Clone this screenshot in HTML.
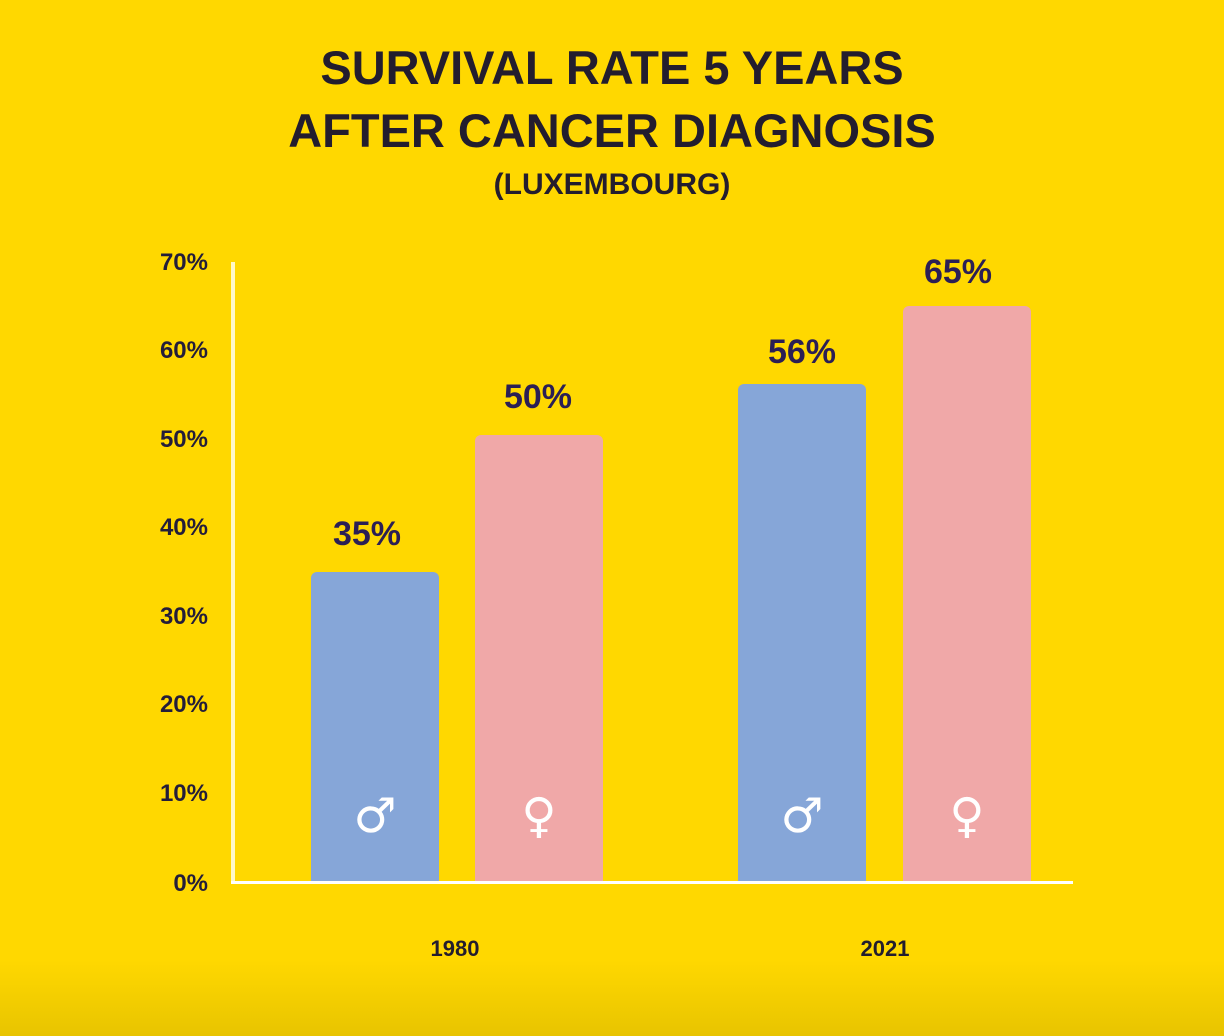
<!DOCTYPE html>
<html><head><meta charset="utf-8"><style>
body{margin:0;width:1224px;height:1036px;overflow:hidden;font-family:"Liberation Sans",sans-serif;}
.bg{position:absolute;left:0;top:0;width:1224px;height:1036px;background:linear-gradient(#FFD800 0,#FFD800 960px,#e8c400 1036px);}
.t{position:absolute;left:0;width:1224px;text-align:center;font-weight:bold;color:#231d2e;}
.yl{position:absolute;left:100px;width:108px;text-align:right;font-weight:bold;font-size:24px;color:#231d3a;}
.bar{position:absolute;border-radius:6px 6px 0 0;}
.v{position:absolute;width:128px;text-align:center;font-weight:bold;font-size:34px;color:#2b1f55;}
.sym{position:absolute;width:128px;text-align:center;color:#fff;font-size:48px;top:788px;font-family:"DejaVu Sans",sans-serif;}
</style></head><body>
<div class="bg"></div>
<div class="t" style="top:40px;font-size:47px;">SURVIVAL RATE 5 YEARS</div>
<div class="t" style="top:103px;font-size:47px;">AFTER CANCER DIAGNOSIS</div>
<div class="t" style="top:168px;font-size:30px;">(LUXEMBOURG)</div>
<div style="position:absolute;left:231px;top:262px;width:4px;height:622px;background:#fff8c8"></div>
<div style="position:absolute;left:231px;top:881px;width:842px;height:3px;background:#fff"></div>
<div class="yl" style="top:249px">70%</div>
<div class="yl" style="top:337px">60%</div>
<div class="yl" style="top:426px">50%</div>
<div class="yl" style="top:514px">40%</div>
<div class="yl" style="top:603px">30%</div>
<div class="yl" style="top:691px">20%</div>
<div class="yl" style="top:780px">10%</div>
<div class="yl" style="top:870px">0%</div>
<div class="bar" style="left:311px;width:128px;top:572px;height:309px;background:#86a6d8"></div>
<div class="bar" style="left:475px;width:128px;top:435px;height:446px;background:#f0a8a8"></div>
<div class="bar" style="left:738px;width:128px;top:384px;height:497px;background:#86a6d8"></div>
<div class="bar" style="left:903px;width:128px;top:306px;height:575px;background:#f0a8a8"></div>
<div class="v" style="left:303px;top:515px">35%</div>
<div class="v" style="left:474px;top:378px">50%</div>
<div class="v" style="left:738px;top:333px">56%</div>
<div class="v" style="left:894px;top:253px">65%</div>
<div class="sym" style="left:311px">♂</div>
<div class="sym" style="left:475px">♀</div>
<div class="sym" style="left:738px">♂</div>
<div class="sym" style="left:903px">♀</div>
<div style="position:absolute;left:400px;width:110px;text-align:center;top:936px;font-weight:bold;font-size:22px;color:#231d2e">1980</div>
<div style="position:absolute;left:830px;width:110px;text-align:center;top:936px;font-weight:bold;font-size:22px;color:#231d2e">2021</div>
</body></html>
